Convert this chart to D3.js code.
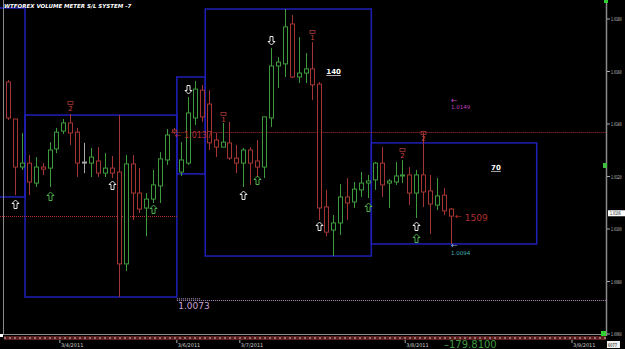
<!DOCTYPE html>
<html><head><meta charset="utf-8">
<script src="https://cdn.jsdelivr.net/npm/d3@7"></script>
<style>html,body{margin:0;padding:0;background:#000;overflow:hidden}svg{display:block}</style>
</head><body>
<svg id="c" width="625" height="349"></svg>
<script>
// ---- data ----
const opens  = [1.01560,1.01419,1.01236,1.01251,1.01175,1.01236,1.01232,1.01305,1.01373,1.01404,1.01369,1.01255,1.01251,1.01259,1.01213,1.01232,1.01217,1.00867,1.01248,1.01137,1.01080,1.01114,1.01164,1.01263,1.01377,1.01217,1.01251,1.01423,1.01529,1.01476,1.01339,1.01312,1.01328,1.01270,1.01251,1.01301,1.01259,1.01236,1.01423,1.01621,1.01629,1.01781,1.01579,1.01594,1.01610,1.01552,1.01084,1.00996,1.01023,1.01122,1.01103,1.01149,1.01175,1.01187,1.01251,1.01175,1.01179,1.01202,1.01206,1.01137,1.01206,1.01145,1.01091,1.01129,1.01076];
const highs  = [1.01568,1.01419,1.01366,1.01282,1.01274,1.01251,1.01331,1.01385,1.01419,1.01438,1.01385,1.01328,1.01309,1.01312,1.01289,1.01278,1.01434,1.01282,1.01282,1.01232,1.01137,1.01225,1.01293,1.01381,1.01385,1.01331,1.01503,1.01564,1.01549,1.01529,1.01366,1.01404,1.01408,1.01320,1.01309,1.01312,1.01339,1.01427,1.01690,1.01655,1.01838,1.01815,1.01731,1.01670,1.01712,1.01560,1.01149,1.01053,1.01171,1.01194,1.01179,1.01217,1.01206,1.01255,1.01312,1.01190,1.01255,1.01263,1.01236,1.01225,1.01366,1.01206,1.01194,1.01156,1.01080];
const lows   = [1.01415,1.01129,1.01225,1.01129,1.01160,1.01206,1.01160,1.01289,1.01362,1.01320,1.01198,1.01213,1.01198,1.01198,1.01198,1.01194,1.00741,1.00840,1.01034,1.01061,1.00972,1.01099,1.01099,1.01244,1.01362,1.01202,1.01244,1.01396,1.01408,1.01301,1.01274,1.01312,1.01263,1.01213,1.01160,1.01168,1.01198,1.01194,1.01389,1.01537,1.01579,1.01575,1.01556,1.01556,1.01491,1.01034,1.00972,1.00897,1.00977,1.01034,1.01080,1.01122,1.01118,1.01149,1.01122,1.01080,1.01168,1.01175,1.01091,1.01042,1.01084,1.00981,1.01072,1.01053,1.00943];
const closes = [1.01423,1.01236,1.01251,1.01179,1.01236,1.01228,1.01301,1.01369,1.01404,1.01366,1.01251,1.01255,1.01274,1.01213,1.01232,1.01213,1.00867,1.01248,1.01137,1.01076,1.01114,1.01168,1.01267,1.01358,1.01369,1.01263,1.01442,1.01533,1.01427,1.01328,1.01312,1.01331,1.01270,1.01251,1.01301,1.01251,1.01236,1.01427,1.01621,1.01636,1.01770,1.01579,1.01594,1.01610,1.01549,1.01080,1.00988,1.01023,1.01122,1.01099,1.01152,1.01175,1.01183,1.01251,1.01168,1.01183,1.01202,1.01206,1.01137,1.01206,1.01141,1.01095,1.01126,1.01069,1.01049];

const yTickValues = [1.0180,1.0160,1.0140,1.0120,1.0100,1.0080,1.0060];
const yTickLabels = ["1.0180","1.0160","1.0140","1.0120","1.0100","1.0080","1.0060"];
const dateLabels = ["3/4/2011","3/6/2011","3/7/2011","3/8/2011","3/9/2011"];
const dateIndex  = [7.5,24.4,33.5,57.4,81.5];

const boxStart = [-3,2.46,24.4,28.5,52.5];
const boxEnd   = [2.46,24.4,28.5,52.5,76.4];
const boxHigh  = [1.01842,1.01434,1.01579,1.01838,1.01328];
const boxLow   = [1.01122,1.00741,1.01210,1.00897,1.00943];
const boxLabels = ["140","70"];
const boxLabelIndex = [46.0,69.8];
const boxLabelPrice = [1.01590,1.01225];

const levelPrice = [1.0137,1.01049,1.0073];
const levelStart = [23.6,-2,24.4];
const levelEnd   = [86.4,24.4,86.4];
const levelColor = ["#b03030","#b03030","#b090c0"];

const sigIndex = [1,6,15,21,9,26,31,34,36,38,44,45,52,57,60,59,59];
const sigPrice = [1.01095,1.01126,1.01168,1.01076,1.01469,1.01533,1.01427,1.01129,1.01187,1.01720,1.01739,1.01011,1.01084,1.01289,1.01354,1.01011,1.00966];
const sigType  = ["wu","gu","wu","gu","r2","wd","r1","wu","gu","wd","r1","wu","gu","r2","r2","wu","gu"];

const lastPrice = 1.0106;

// ---- drawing ----
const svg = d3.select("#c");
svg.append("rect").attr("width",625).attr("height",349).attr("fill","#000");
const x = d3.scaleLinear().domain([0,64]).range([8,450.9]);
const y = d3.scaleLinear().domain([1.0180,1.0060]).range([19,334]);
const F = "DejaVu Sans, sans-serif";
const GREEN="#3d9a3d", RED="#a53535";

// boxes
const boxes = boxStart.map((s,i)=>({s,e:boxEnd[i],h:boxHigh[i],l:boxLow[i]}));
svg.append("g").selectAll("rect").data(boxes).join("rect")
  .attr("x",d=>x(d.s)).attr("y",d=>y(d.h))
  .attr("width",d=>x(d.e)-x(d.s)).attr("height",d=>y(d.l)-y(d.h))
  .attr("fill","none").attr("stroke","#1f1fb8").attr("stroke-width",1.5);

// level lines
svg.append("g").selectAll("line").data(levelPrice).join("line")
  .attr("x1",(d,i)=>Math.max(0,x(levelStart[i]))).attr("x2",(d,i)=>Math.min(606,x(levelEnd[i])))
  .attr("y1",d=>Math.round(y(d))+0.5).attr("y2",d=>Math.round(y(d))+0.5)
  .attr("stroke",(d,i)=>levelColor[i]).attr("stroke-width",1).attr("stroke-dasharray","1,1");

// candles
const candles = opens.map((o,i)=>({i,o,h:highs[i],l:lows[i],c:closes[i]}));
const col = d=> d.c>d.o?GREEN:(d.c<d.o?RED:"#a8a8a8");
const cg = svg.append("g");
cg.selectAll("line").data(candles).join("line")
  .attr("x1",d=>Math.round(x(d.i))+0.5).attr("x2",d=>Math.round(x(d.i))+0.5)
  .attr("y1",d=>y(d.h)).attr("y2",d=>y(d.l)).attr("stroke",col).attr("stroke-width",1);
cg.selectAll("rect").data(candles).join("rect")
  .attr("x",d=>Math.round(x(d.i))-2+0.5).attr("width",4)
  .attr("y",d=>y(Math.max(d.o,d.c))).attr("height",d=>Math.max(1,y(Math.min(d.o,d.c))-y(Math.max(d.o,d.c))))
  .attr("fill","#000").attr("stroke",col).attr("stroke-width",1);

// signals (hollow arrows)
const upArrow = "M0,-4.5 L3.5,-1 L1.5,-1 L1.5,4 L-1.5,4 L-1.5,-1 L-3.5,-1 Z";
const downArrow = "M0,4.5 L3.5,1 L1.5,1 L1.5,-4 L-1.5,-4 L-1.5,1 L-3.5,1 Z";
const sigs = sigIndex.map((ix,k)=>({ix,p:sigPrice[k],t:sigType[k]}));
const sg = svg.append("g");
sigs.forEach(s=>{
  const cx=Math.round(x(s.ix))+0.5, cy=Math.round(y(s.p))+0.5;
  if(s.t==="wu"||s.t==="gu"||s.t==="wd"){
    sg.append("path").attr("transform",`translate(${cx},${cy})`)
      .attr("d",s.t==="wd"?downArrow:upArrow).attr("fill","none")
      .attr("stroke",s.t==="gu"?"#4cb04c":"#e8e8e8").attr("stroke-width",1);
  } else {
    sg.append("rect").attr("x",cx-2.5).attr("y",cy-5).attr("width",5).attr("height",3)
      .attr("fill","none").attr("stroke",RED).attr("stroke-width",0.8);
    sg.append("text").attr("x",cx).attr("y",cy+4).attr("text-anchor","middle")
      .attr("font-family",F).attr("font-size",7).attr("fill","#d04040").text(s.t==="r1"?"1":"2");
  }
});

// box labels
svg.append("g").selectAll("text").data(boxLabels).join("text")
  .attr("x",(d,i)=>x(boxLabelIndex[i])).attr("y",(d,i)=>y(boxLabelPrice[i]))
  .attr("font-family",F).attr("font-size",7).attr("font-weight","bold").attr("fill","#fff")
  .attr("text-decoration","underline").text(d=>d);

// annotation texts
const ann = svg.append("g").attr("font-family",F);
ann.append("text").attr("x",x(24.1)).attr("y",y(1.0137)+6).attr("font-size",8).attr("fill","#b03030").text("\u2190 1.0137");
ann.append("text").attr("x",x(24.6)).attr("y",y(1.0073)+9).attr("font-size",9).attr("fill","#c8a0d0").text("1.0073");
ann.append("line").attr("x1",x(24.4)).attr("x2",x(27.8)).attr("y1",y(1.0073)-1).attr("y2",y(1.0073)-1).attr("stroke","#d0b0e0").attr("stroke-dasharray","1,1");
ann.append("text").attr("x",x(64)).attr("y",y(1.0149)+3).attr("font-size",8).attr("fill","#c040c0").text("\u2190");
ann.append("text").attr("x",x(64)).attr("y",y(1.0149)+9).attr("font-size",5.5).attr("fill","#c040c0").text("1.0149");
ann.append("text").attr("x",x(64)).attr("y",y(1.0094)+3).attr("font-size",8).attr("fill","#8ab0e0").text("\u2190");
ann.append("text").attr("x",x(64)).attr("y",y(1.0094)+10).attr("font-size",5.5).attr("fill","#40b0b0").text("1.0094");
ann.append("text").attr("x",x(64.6)).attr("y",y(1.01049)+3).attr("font-size",8).attr("fill","#c03030").text("\u2190");
ann.append("text").attr("x",x(66)).attr("y",y(1.01049)+5).attr("font-size",9).attr("fill","#b03030").text("1509");

// title
svg.append("text").attr("x",4).attr("y",8).attr("font-family",F).attr("font-size",5.5)
  .attr("font-weight","bold").attr("font-style","italic").attr("fill","#fff")
  .text("WTFOREX VOLUME METER  S/L SYSTEM -7");

// frame lines
svg.append("line").attr("x1",3.5).attr("x2",3.5).attr("y1",0).attr("y2",334).attr("stroke","#8a8a8a").attr("stroke-width",1);
svg.append("line").attr("x1",606.5).attr("x2",606.5).attr("y1",0).attr("y2",336).attr("stroke","#8a8a8a").attr("stroke-width",1.5);
svg.append("line").attr("x1",0).attr("x2",606).attr("y1",334.5).attr("y2",334.5).attr("stroke","#8a8a8a").attr("stroke-width",1);

// bottom strip
svg.append("rect").attr("x",4).attr("y",336).attr("width",602).attr("height",4).attr("fill","#5a1e1e");
svg.append("line").attr("x1",4).attr("x2",606).attr("y1",338).attr("y2",338).attr("stroke","#d8c8c8").attr("stroke-width",1).attr("stroke-dasharray","2,3");
svg.append("rect").attr("x",0).attr("y",334).attr("width",3).attr("height",3).attr("fill","#fff");

// y axis
const yAxis = svg.append("g");
yAxis.selectAll("line").data(yTickValues).join("line")
  .attr("x1",607).attr("x2",610).attr("y1",d=>y(d)).attr("y2",d=>y(d)).attr("stroke","#aaa");
yAxis.selectAll("text").data(yTickLabels).join("text")
  .attr("transform",(d,i)=>`translate(611,${y(yTickValues[i])+2}) scale(0.62,1)`)
  .attr("font-family",F).attr("font-size",5)
  .attr("fill","#ccc").text(d=>d);
svg.append("rect").attr("x",608).attr("y",y(lastPrice)-3).attr("width",17).attr("height",6).attr("fill","#fff");
svg.append("text").attr("transform",`translate(610,${y(lastPrice)+2}) scale(0.62,1)`)
  .attr("font-family",F).attr("font-size",5).attr("fill","#000").text(lastPrice.toFixed(4));
svg.append("rect").attr("x",601).attr("y",331).attr("width",5).attr("height",5).attr("fill","#30d030");
svg.append("rect").attr("x",604).attr("y",0).attr("width",4).attr("height",3).attr("fill","#30d030");
svg.append("rect").attr("x",603).attr("y",163).attr("width",4).attr("height",5).attr("fill","#40c040");

// x axis date labels
const xa = svg.append("g");
xa.selectAll("line").data(dateIndex).join("line")
  .attr("x1",d=>x(d)).attr("x2",d=>x(d)).attr("y1",340).attr("y2",343).attr("stroke","#aaa");
xa.selectAll("text").data(dateLabels).join("text")
  .attr("x",(d,i)=>x(dateIndex[i])+1).attr("y",347).attr("font-family",F).attr("font-size",5)
  .attr("fill","#ccc").text(d=>d);

// bottom counters
svg.append("text").attr("x",444).attr("y",348).attr("font-family",F).attr("font-size",10).attr("fill",GREEN).text("\u2013179.8100");
svg.append("rect").attr("x",607).attr("y",341).attr("width",13).attr("height",7).attr("fill","#eee");
svg.append("text").attr("transform","translate(608,347) scale(0.7,1)")
  .attr("font-family",F).attr("font-size",5).attr("fill","#000").text("6077");
</script>
</body></html>
